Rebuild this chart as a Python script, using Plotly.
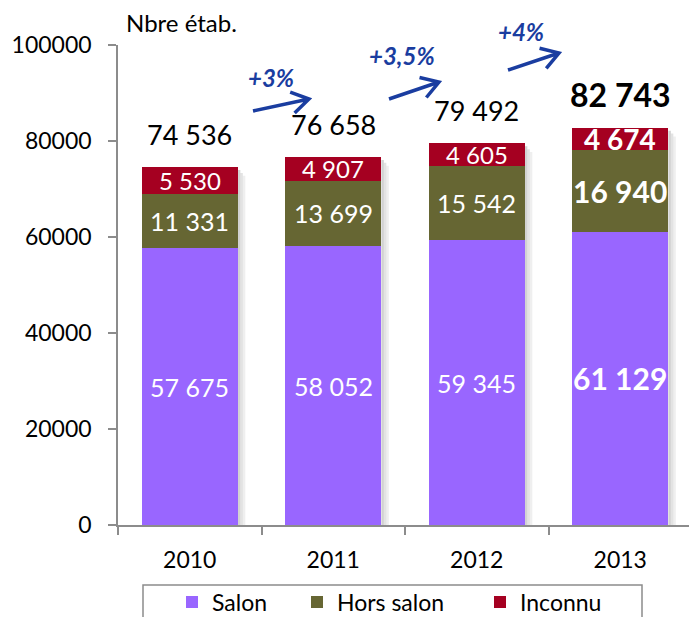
import math
import plotly.graph_objects as go

years = ["2010", "2011", "2012", "2013"]
salon = [57675, 58052, 59345, 61129]
hors_salon = [11331, 13699, 15542, 16940]
inconnu = [5530, 4907, 4605, 4674]
totals = [74536, 76658, 79492, 82743]
growth_labels = ["+3%", "+3,5%", "+4%"]
y_ticks = [0, 20000, 40000, 60000, 80000, 100000]

FONT = "Lato"
C_SALON = "#9966FF"
C_HORS = "#666633"
C_INC = "#A50021"
C_BLUE = "#1A3DA0"
C_AXIS = "#8C8C8C"
W, H = 689, 617
L, R, T, B = 118, 0, 45, 92
CAT_PX = 143.5
BAR_W = 0.67
plot_w = W - L - R
plot_h = H - T - B


def fmt(v):
    return f"{v:,}".replace(",", " ")


def px2paper(px, py):
    return (px - L) / plot_w, (H - B - py) / plot_h


series = [("Salon", salon, C_SALON, "legend", 172),
          ("Hors salon", hors_salon, C_HORS, "legend2", 297),
          ("Inconnu", inconnu, C_INC, "legend3", 480)]

fig = go.Figure()
for name, vals, col, leg, _ in series:
    fig.add_trace(go.Bar(x=years, y=vals, name=name, marker=dict(color=col, line=dict(width=0)),
                         width=BAR_W, hoverinfo="skip", legend=leg, showlegend=True))

annotations = []
shapes = []
for i, yr in enumerate(years):
    bold = i == len(years) - 1
    # soft shadow on the right of each bar
    for k, op in enumerate([0.35, 0.22, 0.12]):
        x0 = i + BAR_W / 2 + k * 2.5 / CAT_PX
        shapes.append(dict(type="rect", xref="x", yref="y", x0=x0, x1=x0 + 2.5 / CAT_PX,
                           y0=0, y1=totals[i] - 600 * (k + 1), fillcolor="#7F7F7F", opacity=op,
                           line=dict(width=0), layer="below"))
    base = 0
    for vals, sz, bsz in [(salon, 25, 30), (hors_salon, 25, 30), (inconnu, 24, 28)]:
        v = vals[i]
        annotations.append(dict(x=i, y=base + v / 2, xref="x", yref="y", text=fmt(v), showarrow=False,
                                font=dict(family=FONT, size=bsz if bold else sz, color="white",
                                          weight=700 if bold else 400),
                                xanchor="center", yanchor="middle"))
        base += v
    annotations.append(dict(x=i, y=totals[i], xref="x", yref="y", text=fmt(totals[i]), showarrow=False,
                            xanchor="center", yanchor="middle", yshift=33,
                            font=dict(family=FONT, size=32 if bold else 27, color="black",
                                      weight=700 if bold else 400)))

# growth labels and arrows
label_px = [(271, 77), (402, 55), (521, 31)]
arrows_px = [((253, 111), (309, 99)), ((389, 99), (439, 82)), ((508, 70), (559, 53))]
for lab, (lx, ly), ((x0, y0), (x1, y1)) in zip(growth_labels, label_px, arrows_px):
    px, py = px2paper(lx, ly)
    annotations.append(dict(x=px, y=py, xref="paper", yref="paper", text=lab, showarrow=False,
                            xanchor="center", yanchor="middle",
                            font=dict(family=FONT, size=24, color=C_BLUE, style="italic", weight=700)))
    ang = math.atan2(y1 - y0, x1 - x0)
    hl = 20
    pts = []
    for d in (math.radians(32), -math.radians(32)):
        pts.append((x1 - hl * math.cos(ang + d), y1 - hl * math.sin(ang + d)))

    def P(a, b):
        q = px2paper(a, b)
        return f"{q[0]:.5f},{q[1]:.5f}"
    path = f"M {P(x0, y0)} L {P(x1, y1)} M {P(*pts[0])} L {P(x1, y1)} L {P(*pts[1])}"
    shapes.append(dict(type="path", xref="paper", yref="paper", path=path,
                       line=dict(color=C_BLUE, width=3.5)))

nx, ny = px2paper(124, 22)
annotations.append(dict(x=nx, y=ny, xref="paper", yref="paper", text="Nbre étab.", showarrow=False,
                        xanchor="left", yanchor="middle", font=dict(family=FONT, size=24, color="black")))

# legend frame (runs off the bottom edge, as in the original)
bx0, by0 = px2paper(143, 585)
bx1, by1 = px2paper(642, 640)
shapes.append(dict(type="rect", xref="paper", yref="paper", x0=bx0, x1=bx1, y0=by1, y1=by0,
                   line=dict(color=C_AXIS, width=1.5), fillcolor="rgba(0,0,0,0)"))

legends = {}
for name, _, _, leg, lpx in series:
    lx, ly = px2paper(lpx, 602)
    legends[leg] = dict(orientation="h", x=lx, y=ly, xanchor="left", yanchor="middle",
                        borderwidth=0, bgcolor="rgba(0,0,0,0)", visible=True,
                        font=dict(family=FONT, size=23, color="black"), itemwidth=30)

fig.update_layout(
    width=W, height=H,
    showlegend=True,
    margin=dict(l=L, r=R, t=T, b=B, pad=0, autoexpand=False),
    plot_bgcolor="white", paper_bgcolor="white",
    barmode="stack", bargap=0.33,
    font=dict(family=FONT, size=23, color="black"),
    xaxis=dict(type="category", range=[-0.5, -0.5 + plot_w / CAT_PX], showgrid=False,
               showline=True, linecolor=C_AXIS, linewidth=1.5,
               ticks="outside", tickson="boundaries", ticklen=8, tickcolor=C_AXIS, tickwidth=1.5,
               ticklabelstandoff=14,
               tickfont=dict(family=FONT, size=23, color="black")),
    yaxis=dict(range=[0, 100000], tickvals=y_ticks, ticktext=[str(v) for v in y_ticks], showgrid=False,
               zeroline=False, showline=True, linecolor=C_AXIS, linewidth=1.5,
               ticks="outside", ticklen=8, tickcolor=C_AXIS, tickwidth=1.5,
               ticklabelstandoff=12,
               tickfont=dict(family=FONT, size=23, color="black")),
    annotations=annotations,
    shapes=shapes,
    **legends,
)

fig.write_html("out.html", config={"displayModeBar": False},
               post_script="document.body.style.margin='0';document.body.style.overflow='hidden';")
